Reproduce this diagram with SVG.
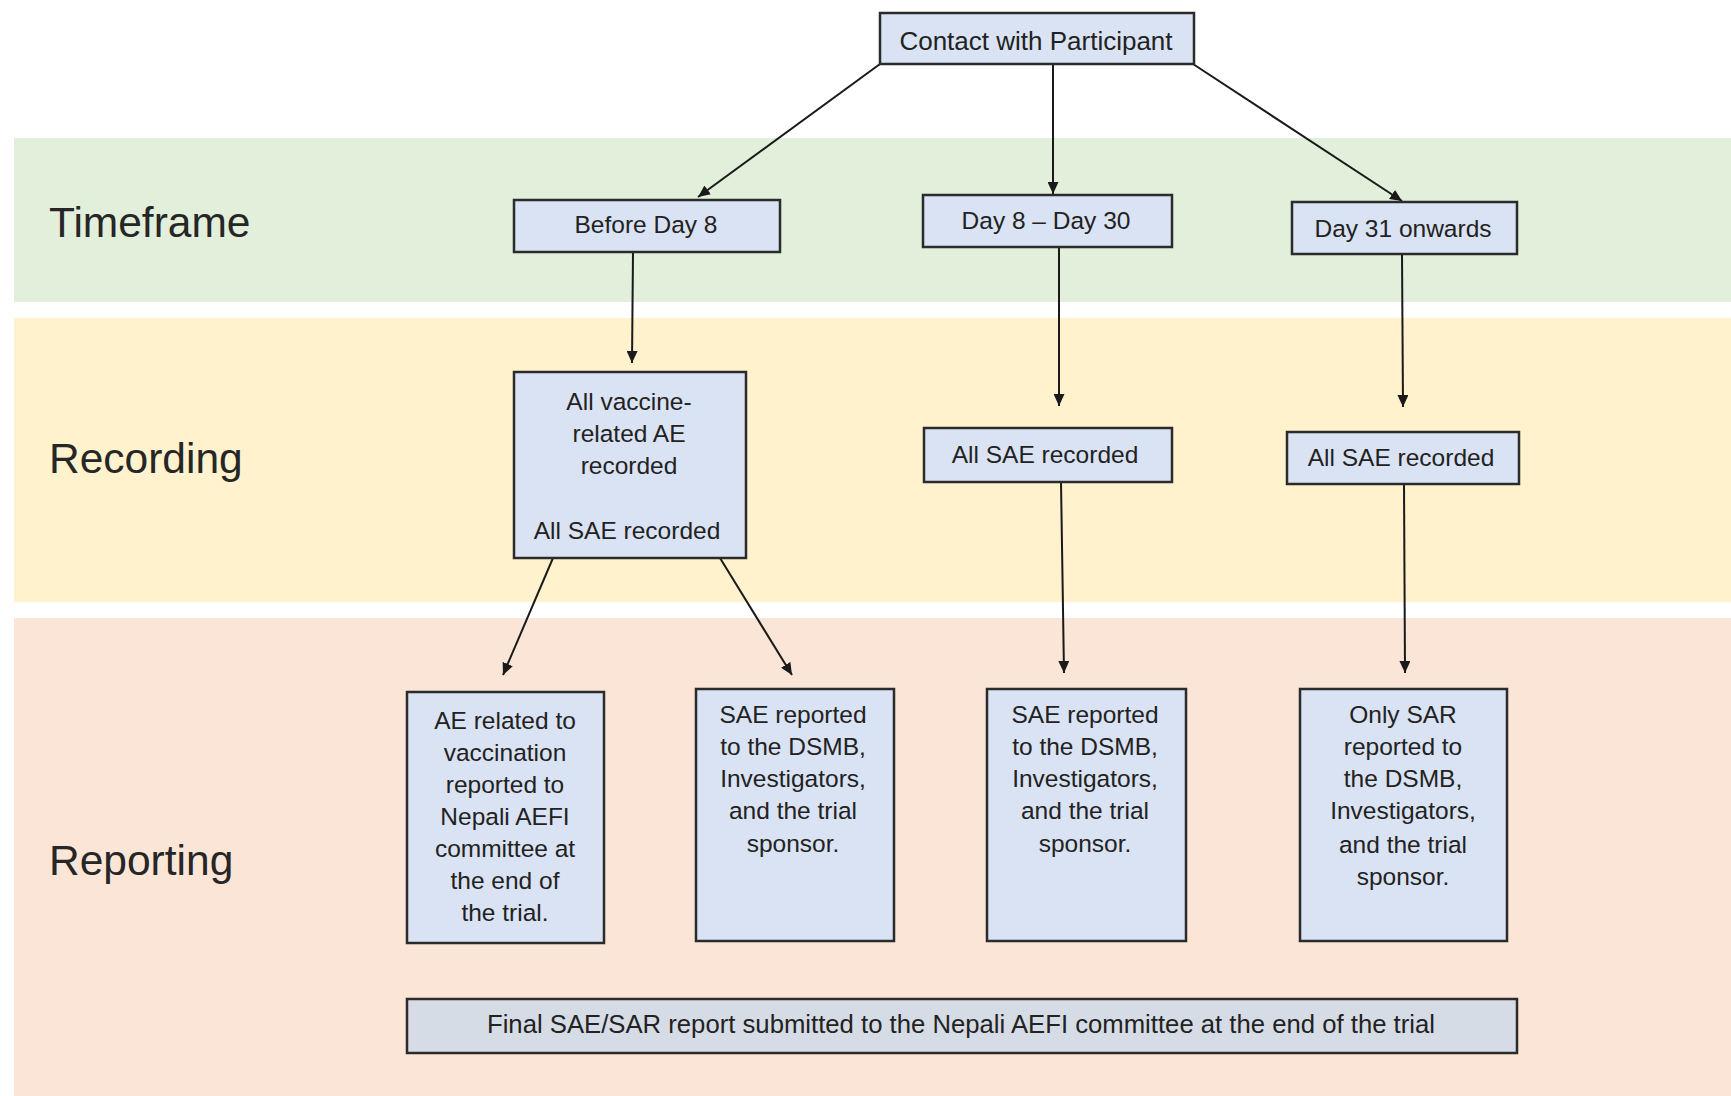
<svg xmlns="http://www.w3.org/2000/svg" width="1731" height="1096" viewBox="0 0 1731 1096">
<style>
.band-label{font-family:"Liberation Sans",Arial,sans-serif;font-size:42.5px;fill:#262626}
.box{fill:#dae3f3;stroke:#2b2b2b;stroke-width:2.5}
.box-final{fill:#d6dce5;stroke:#2b2b2b;stroke-width:2.5}
.t{font-family:"Liberation Sans",Arial,sans-serif;font-size:24.5px;fill:#222;text-anchor:middle}
.conn{stroke:#1a1a1a;stroke-width:2;fill:none;marker-end:url(#arrow)}
</style>
<defs>
<marker id="arrow" markerUnits="userSpaceOnUse" markerWidth="13" markerHeight="11" refX="12" refY="5.5" orient="auto">
<path d="M0,0 L12,5.5 L0,11 z" fill="#1a1a1a"/>
</marker>
</defs>
<rect width="1731" height="1096" fill="#ffffff"/>
<g id="bands">
<rect x="14" y="138" width="1717" height="164" fill="#e2efda"/>
<rect x="14" y="318" width="1717" height="284" fill="#fff2cc"/>
<rect x="14" y="618" width="1717" height="478" fill="#fbe5d6"/>
<text class="band-label" x="49" y="237">Timeframe</text>
<text class="band-label" x="49" y="473">Recording</text>
<text class="band-label" x="49" y="875">Reporting</text>
</g>
<g id="connectors">
<line class="conn" x1="880" y1="64" x2="698" y2="197"/>
<line class="conn" x1="1053" y1="64" x2="1053" y2="194"/>
<line class="conn" x1="1193" y1="64" x2="1402" y2="201"/>
<line class="conn" x1="633" y1="252" x2="632" y2="363"/>
<line class="conn" x1="1059" y1="247" x2="1059" y2="406"/>
<line class="conn" x1="1402" y1="254" x2="1403" y2="407"/>
<line class="conn" x1="553" y1="558" x2="503" y2="675"/>
<line class="conn" x1="720" y1="558" x2="792" y2="675"/>
<line class="conn" x1="1061" y1="482" x2="1064" y2="673"/>
<line class="conn" x1="1404" y1="484" x2="1405" y2="673"/>
</g>
<g id="contact">
<rect class="box" x="880" y="13" width="314" height="51"/>
<text class="t" x="1036" y="50" style="font-size:26px">Contact with Participant</text>
</g>
<g id="before-day8">
<rect class="box" x="514" y="200" width="266" height="52"/>
<text class="t" x="646" y="233">Before Day 8</text>
</g>
<g id="day8-30">
<rect class="box" x="923" y="195" width="249" height="52"/>
<text class="t" x="1046" y="229">Day 8 – Day 30</text>
</g>
<g id="day31">
<rect class="box" x="1292" y="202" width="225" height="52"/>
<text class="t" x="1403" y="237">Day 31 onwards</text>
</g>
<g id="rec-before">
<rect class="box" x="514" y="372" width="232" height="186"/>
<text class="t" x="629" y="410">All vaccine-</text>
<text class="t" x="629" y="442">related AE</text>
<text class="t" x="629" y="474">recorded</text>
<text class="t" x="627" y="539">All SAE recorded</text>
</g>
<g id="rec-day8-30">
<rect class="box" x="924" y="428" width="248" height="54"/>
<text class="t" x="1045" y="463">All SAE recorded</text>
</g>
<g id="rec-day31">
<rect class="box" x="1287" y="432" width="232" height="52"/>
<text class="t" x="1401" y="466">All SAE recorded</text>
</g>
<g id="rep-ae">
<rect class="box" x="407" y="692" width="197" height="251"/>
<text class="t" x="505" y="729">AE related to</text>
<text class="t" x="505" y="761">vaccination</text>
<text class="t" x="505" y="793">reported to</text>
<text class="t" x="505" y="825">Nepali AEFI</text>
<text class="t" x="505" y="857">committee at</text>
<text class="t" x="505" y="889">the end of</text>
<text class="t" x="505" y="921">the trial.</text>
</g>
<g id="rep-sae-before">
<rect class="box" x="696" y="689" width="198" height="252"/>
<text class="t" x="793" y="723">SAE reported</text>
<text class="t" x="793" y="755">to the DSMB,</text>
<text class="t" x="793" y="787">Investigators,</text>
<text class="t" x="793" y="819">and the trial</text>
<text class="t" x="793" y="852">sponsor.</text>
</g>
<g id="rep-sae-day8-30">
<rect class="box" x="987" y="689" width="199" height="252"/>
<text class="t" x="1085" y="723">SAE reported</text>
<text class="t" x="1085" y="755">to the DSMB,</text>
<text class="t" x="1085" y="787">Investigators,</text>
<text class="t" x="1085" y="819">and the trial</text>
<text class="t" x="1085" y="852">sponsor.</text>
</g>
<g id="rep-sar-day31">
<rect class="box" x="1300" y="689" width="207" height="252"/>
<text class="t" x="1403" y="723">Only SAR</text>
<text class="t" x="1403" y="755">reported to</text>
<text class="t" x="1403" y="787">the DSMB,</text>
<text class="t" x="1403" y="819">Investigators,</text>
<text class="t" x="1403" y="853">and the trial</text>
<text class="t" x="1403" y="885">sponsor.</text>
</g>
<g id="final-report">
<rect class="box-final" x="407" y="999" width="1110" height="54"/>
<text class="t" x="961" y="1033" style="font-size:25.7px">Final SAE/SAR report submitted to the Nepali AEFI committee at the end of the trial</text>
</g>
</svg>
